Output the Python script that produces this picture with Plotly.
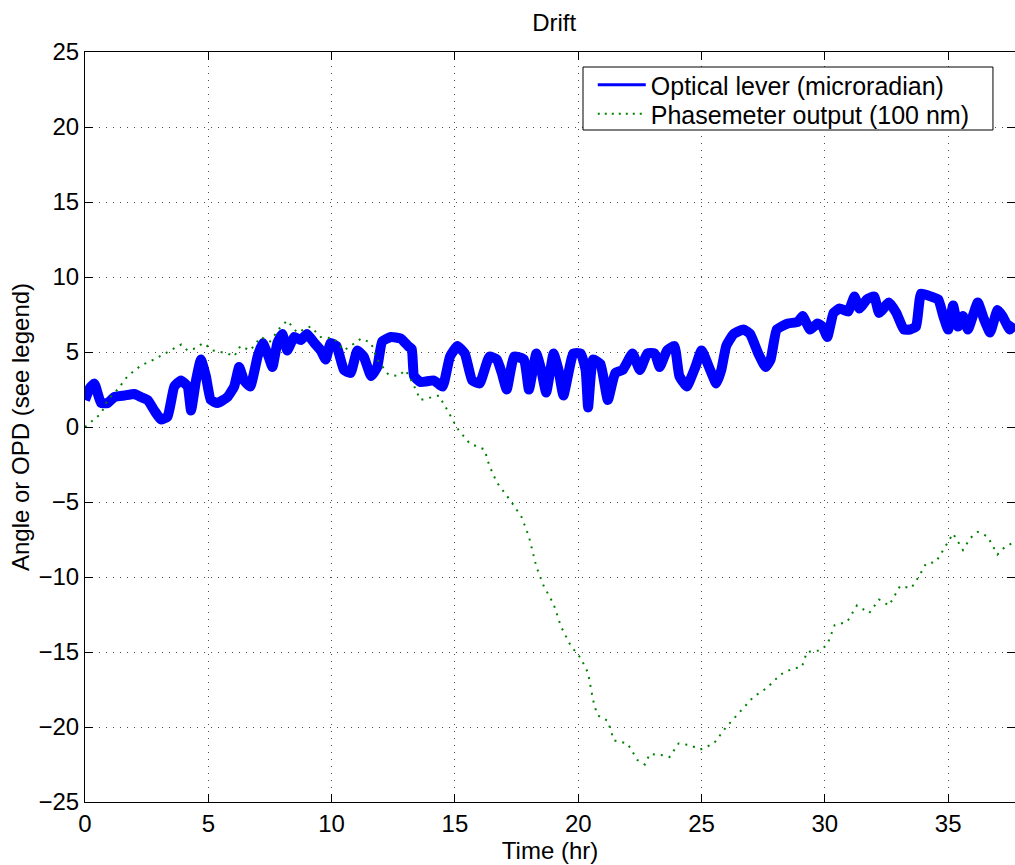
import plotly.graph_objects as go

# Optical lever (microradian) trace
lever_t = [0, 0.2, 0.38, 0.65, 0.92, 1.19, 1.6, 2.0, 2.27, 2.54, 2.81, 3.08, 3.35, 3.62, 3.89, 4.16, 4.3, 4.5, 4.7, 4.9, 5.1,
           5.37, 5.78, 6.05, 6.25, 6.45, 6.7, 7.0, 7.2, 7.4, 7.6, 7.8, 8.0, 8.2, 8.48, 8.75, 9.0, 9.3, 9.56, 9.76, 9.96,
           10.2, 10.5, 10.77, 11.04, 11.3, 11.6, 11.85, 12.05, 12.4, 12.8, 13.1, 13.25, 13.34, 13.6, 14.15, 14.5, 14.8, 15.1,
           15.4, 15.7, 16.0, 16.4, 16.7, 16.9, 17.1, 17.4, 17.8, 18.0, 18.3, 18.5, 18.7, 19.0, 19.2, 19.4, 19.8, 20.1,
           20.3, 20.4, 20.6, 20.9, 21.2, 21.5, 21.8, 22.2, 22.5, 22.8, 23.1, 23.3, 23.6, 23.9, 24.1, 24.4, 24.75, 25.0,
           25.35, 25.6, 25.8, 26.0, 26.3, 26.7, 26.97, 27.3, 27.6, 27.8, 28.05, 28.5, 28.9, 29.1, 29.4, 29.7, 29.9,
           30.1, 30.35, 30.6, 30.95, 31.2, 31.4, 31.7, 32.0, 32.2, 32.6, 32.9, 33.2, 33.45, 33.7, 33.9, 34.3, 34.6,
           34.8, 35.0, 35.2, 35.4, 35.6, 35.8, 36.2, 36.45, 36.7, 37.0, 37.2, 37.5, 37.7]
lever_v = [1.8, 2.6, 2.9, 1.6, 1.6, 2.0, 2.1, 2.2, 2.0, 1.8, 1.1, 0.5, 0.7, 2.7, 3.1, 2.7, 1.1, 3.1, 4.5, 3.4, 1.8,
           1.6, 2.0, 2.7, 4.0, 3.1, 2.7, 4.7, 5.6, 4.9, 4.0, 5.6, 6.2, 5.1, 6.0, 5.8, 6.2, 5.6, 5.1, 4.5, 5.6,
           5.4, 3.8, 3.6, 5.1, 4.7, 3.4, 4.0, 5.7, 6.0, 5.9, 5.4, 5.2, 3.4, 3.0, 3.1, 2.7, 4.7, 5.4,
           4.9, 3.1, 2.9, 4.7, 4.5, 3.6, 2.5, 4.7, 4.5, 2.5, 4.9, 3.8, 2.3, 4.9, 3.8, 2.1, 4.9, 4.9,
           3.8, 1.3, 4.5, 4.2, 1.8, 3.6, 3.8, 4.9, 3.8, 4.9, 4.9, 4.0, 5.1, 5.4, 3.4, 2.7, 4.0, 5.1,
           3.8, 2.9, 3.8, 5.4, 6.2, 6.5, 6.2, 4.9, 4.0, 4.5, 6.5, 6.9, 7.0, 7.4, 6.5, 6.9, 6.7,
           6.0, 7.6, 7.9, 7.7, 8.7, 7.9, 8.5, 8.7, 7.6, 8.3, 7.6, 6.5, 6.5, 6.7, 8.9, 8.7, 8.5,
           7.4, 6.5, 8.1, 6.7, 7.4, 6.5, 8.3, 7.2, 6.3, 7.8, 7.4, 6.5, 6.9]

# Phasemeter output (100 nm) trace
phase_t = [0, 0.38, 0.65, 0.92, 1.32, 1.73, 2.27, 2.8, 3.35, 3.9, 4.16, 4.4, 4.8, 5.2, 5.78, 6.05, 6.3, 6.7, 7.13,
           7.5, 7.9, 8.2, 8.6, 9.15, 9.56, 10.1, 10.5, 10.77, 11.2, 11.6, 11.85, 12.3, 12.7, 13.0, 13.3, 13.6, 13.9,
           14.35, 14.7, 15.1, 15.6, 16.2, 16.4, 16.7, 17.25, 17.7, 18.0, 18.3, 18.6, 19.0, 19.3, 19.7, 20.1, 20.4,
           20.6, 20.77, 21.2, 21.45, 22.0, 22.4, 22.7, 22.9, 23.5, 23.7, 24.07, 24.5, 24.95, 25.5, 26.0, 26.6, 27.1,
           27.65, 28.2, 28.7, 29.07, 29.27, 29.8, 30.1, 30.4, 30.9, 31.3, 31.8, 32.2, 32.6, 33.05, 33.5, 33.8, 34.1,
           34.5, 34.8, 35.2, 35.6, 35.9, 36.2, 36.6, 37.0, 37.3, 37.7]
phase_v = [0.0, 0.5, 0.9, 1.8, 2.5, 3.4, 4.1, 4.5, 5.0, 5.5, 5.1, 5.2, 5.6, 5.1, 4.9, 4.7, 5.4, 5.1, 6.0,
           5.7, 6.6, 7.1, 6.3, 6.7, 6.0, 5.9, 5.1, 5.4, 5.9, 5.6, 4.5, 3.5, 3.4, 3.8, 2.9, 1.8, 1.9,
           2.1, 1.1, -0.1, -1.1, -1.5, -2.6, -3.7, -4.9, -6.0, -7.3, -9.3, -10.6, -11.8, -13.3, -14.6, -15.4, -16.4,
           -18.2, -19.2, -19.6, -20.9, -21.1, -22.2, -22.5, -21.8, -21.9, -22.0, -21.1, -21.2, -21.5, -21.1, -20.0,
           -18.9, -18.0, -17.4, -16.5, -16.1, -16.0, -15.0, -14.9, -14.5, -13.2, -13.0, -11.9, -12.4, -11.5, -11.9,
           -10.6, -10.75, -10.0, -9.1, -9.0, -8.2, -7.1, -8.2, -7.4, -7.0, -7.3, -8.5, -8.0, -7.65]

x_ticks = [0, 5, 10, 15, 20, 25, 30, 35]
y_ticks = [-25, -20, -15, -10, -5, 0, 5, 10, 15, 20, 25]

FONT = "Liberation Sans, Arial, Helvetica, sans-serif"
BLUE = "#0000ff"
GREEN = "#008000"
FS = 24

fig = go.Figure()
fig.add_trace(go.Scatter(x=lever_t, y=lever_v, mode="lines", showlegend=False,
                         line=dict(color=BLUE, width=10, shape="spline", smoothing=0.4)))
fig.add_trace(go.Scatter(x=phase_t, y=phase_v, mode="lines", showlegend=False,
                         line=dict(color=GREEN, width=2, dash="2px,6px")))
# legend entries (each in its own legend so rows can be placed exactly)
fig.add_trace(go.Scatter(x=[None], y=[None], mode="lines", name="Optical lever (microradian)",
                         line=dict(color=BLUE, width=3), legend="legend"))
fig.add_trace(go.Scatter(x=[None], y=[None], mode="lines", name="Phasemeter output (100 nm)",
                         line=dict(color=GREEN, width=2, dash="2px,5px"), legend="legend2"))

axis_common = dict(
    showline=True, linecolor="black", linewidth=1, mirror="ticks",
    ticks="inside", ticklen=8, tickcolor="black", tickwidth=1,
    showgrid=True, gridcolor="rgba(0,0,0,0.7)", gridwidth=1, griddash="1px,6px",
    zeroline=False, tickfont=dict(family=FONT, size=FS, color="black"),
)

legend_common = dict(xanchor="left", yanchor="middle", bgcolor="rgba(0,0,0,0)",
                     borderwidth=0, font=dict(family=FONT, size=25, color="black"),
                     itemwidth=48, x=0.546)

fig.update_layout(
    width=1015, height=865,
    margin=dict(l=85, r=0, t=52, b=63),
    paper_bgcolor="white", plot_bgcolor="white",
    font=dict(family=FONT, color="black"),
    title=dict(text="Drift", x=0.546, xanchor="center", y=0.974, yanchor="middle",
               font=dict(family=FONT, size=FS, color="black")),
    xaxis=dict(range=[0, 37.71], tickvals=x_ticks,
               title=dict(text="Time (hr)", font=dict(family=FONT, size=FS), standoff=0),
               **axis_common),
    yaxis=dict(range=[-25, 25], tickvals=y_ticks,
               title=dict(text="Angle or OPD (see legend)", font=dict(family=FONT, size=FS), standoff=2),
               **axis_common),
    legend=dict(y=0.956, **legend_common),
    legend2=dict(y=0.9173, **legend_common),
    shapes=[dict(type="rect", xref="paper", yref="paper", x0=0.5355, x1=0.9763, y0=0.896, y1=0.98,
                 line=dict(color="black", width=1), fillcolor="white", layer="above")],
)

fig.write_html("out.html")
